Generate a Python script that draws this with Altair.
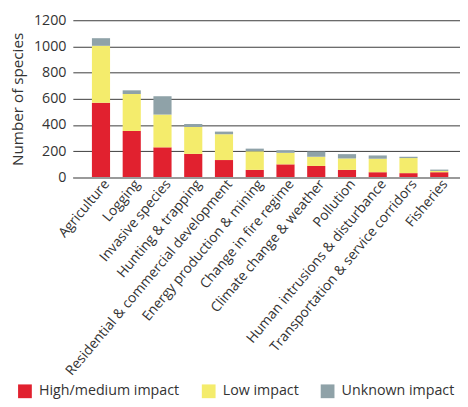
import altair as alt
import pandas as pd

categories = [
    "Agriculture",
    "Logging",
    "Invasive species",
    "Hunting & trapping",
    "Residential & commercial development",
    "Energy production & mining",
    "Change in fire regime",
    "Climate change & weather",
    "Pollution",
    "Human intrusions & disturbance",
    "Transportation & service corridors",
    "Fisheries",
]
high_medium = [570, 355, 230, 180, 133, 58, 100, 88, 58, 40, 33, 40]
low = [435, 282, 250, 205, 197, 142, 88, 70, 87, 103, 115, 10]
unknown = [58, 28, 140, 23, 20, 20, 20, 40, 33, 25, 10, 10]

impact_levels = ["High/medium impact", "Low impact", "Unknown impact"]
impact_colors = ["#E1212F", "#F4EC6C", "#8FA2A8"]
y_ticks = [0, 200, 400, 600, 800, 1000, 1200]

rows = []
for i, cat in enumerate(categories):
    for k, (lvl, vals) in enumerate(zip(impact_levels, [high_medium, low, unknown])):
        rows.append({"threat": cat, "impact": lvl, "species": vals[i], "k": k})
df = pd.DataFrame(rows)

chart = (
    alt.Chart(df)
    .mark_bar()
    .encode(
        x=alt.X(
            "threat:N",
            sort=categories,
            scale=alt.Scale(paddingInner=0.41, paddingOuter=0.5, align=0.62),
            axis=alt.Axis(
                title=None,
                labelAngle=-50,
                labelFontSize=14,
                labelColor="#333333",
                labelPadding=4,
                labelOffset=6,
                ticks=False,
                domainColor="#9a9a9a",
                domainWidth=2,
                zindex=1,
                labelLimit=400,
            ),
        ),
        y=alt.Y(
            "species:Q",
            stack="zero",
            scale=alt.Scale(domain=[0, 1200]),
            axis=alt.Axis(
                title="Number of species",
                values=y_ticks,
                format="d",
                titleFontSize=15.5,
                titleFontWeight="normal",
                titleColor="#333333",
                titlePadding=8,
                labelFontSize=14.5,
                labelColor="#333333",
                labelPadding=7,
                ticks=False,
                domain=False,
                grid=True,
                gridColor="#3a3a3a",
                gridWidth=1,
            ),
        ),
        color=alt.Color(
            "impact:N",
            scale=alt.Scale(domain=impact_levels, range=impact_colors),
            legend=alt.Legend(
                title=None,
                orient="none",
                legendX=-56,
                legendY=370,
                direction="horizontal",
                symbolType="square",
                symbolSize=196,
                symbolStrokeWidth=0,
                labelFontSize=14.5,
                labelColor="#333333",
                labelOffset=7,
                columnPadding=22,
            ),
        ),
        order=alt.Order("k:Q"),
    )
    .properties(
        width=394,
        height=160,
        autosize=alt.AutoSizeParams(type="none"),
        padding={"left": 66, "top": 9, "right": 0, "bottom": 222},
    )
    .configure(font="Open Sans")
    .configure_view(stroke=None)
)

chart.save("out.html", embed_options={"renderer": "svg", "actions": False})
